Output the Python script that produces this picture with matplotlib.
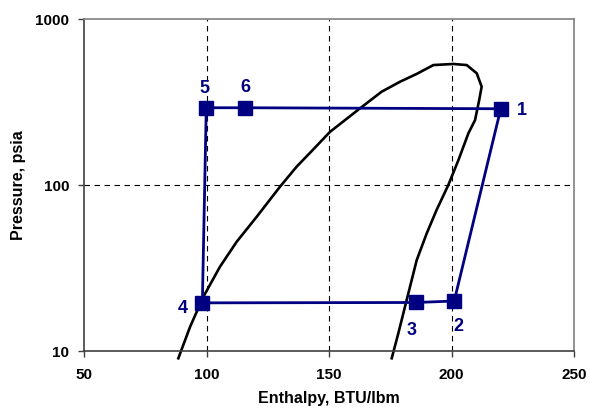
import matplotlib
matplotlib.use("Agg")
import matplotlib.pyplot as plt
from matplotlib.ticker import FixedLocator, NullLocator, FixedFormatter

plt.rcParams['font.family'] = ['Liberation Sans', 'DejaVu Sans']

# Saturation dome
dome_h = [88.5, 93.3, 98.7, 105.5, 112.3, 120.5, 130.0, 136.8, 143.6, 150.4, 162.7,
          171.5, 179.0, 185.8, 192.6, 200.7, 206.2, 210.3, 212.3, 211.3, 209.6,
          206.9, 202.8, 198.7, 193.9, 189.9, 185.8, 181.7, 178.3, 175.6]
dome_p = [9.04, 14.0, 21.2, 32.2, 45.5, 64.4, 97.7, 129, 164, 209, 290,
          365, 419, 467, 528, 536, 528, 471, 391, 325, 246,
          205, 141, 100, 70.7, 51.2, 35.3, 20.3, 12.8, 9.04]

# Cycle states
cycle_labels = ['1', '2', '3', '4', '5', '6']
cycle_h = [220.1, 201.1, 185.5, 98.3, 99.9, 115.7]
cycle_p = [288, 20.0, 19.6, 19.5, 292, 292]

x_ticks = [50, 100, 150, 200, 250]
y_ticks = [10, 100, 1000]

navy = '#000080'

fig = plt.figure(figsize=(5.9, 4.08), dpi=100)
ax = fig.add_axes([0.1424, 0.1397, 0.9729 - 0.1424, 0.9534 - 0.1397])

ax.set_yscale('log')
ax.set_xlim(50, 250)
ax.set_ylim(10, 1000)

# grid
for xv in [100, 150, 200]:
    ax.axvline(xv, color='black', lw=0.8, ls=(0, (5, 4)), zorder=1)
ax.axhline(100, color='black', lw=0.8, ls=(0, (5, 4)), zorder=1)

ax.plot(dome_h, dome_p, color='black', lw=1.9, clip_on=False, zorder=2,
        solid_joinstyle='round')

hh = cycle_h + [cycle_h[0]]
pp = cycle_p + [cycle_p[0]]
ax.plot(hh, pp, color=navy, lw=2, zorder=3)
ax.plot(cycle_h, cycle_p, ls='none', marker='s', ms=10, color=navy, zorder=4)

offsets = {'1': (15, -1), '2': (3, -18), '3': (-3, -20), '4': (-14, -4),
           '5': (-1.5, 14), '6': (0, 14.5)}
for lab, h, p in zip(cycle_labels, cycle_h, cycle_p):
    ax.annotate(lab, (h, p), xytext=offsets[lab], textcoords='offset points',
                ha='center', va='center', color=navy, fontsize=13, fontweight='bold')

ax.xaxis.set_major_locator(FixedLocator(x_ticks))
ax.yaxis.set_major_locator(FixedLocator(y_ticks))
ax.yaxis.set_minor_locator(NullLocator())
ax.yaxis.set_major_formatter(FixedFormatter([str(v) for v in y_ticks]))
ax.set_xticklabels([str(v) for v in x_ticks])

for lab in ax.get_xticklabels() + ax.get_yticklabels():
    lab.set_fontweight('bold')
    lab.set_fontsize(11)

ax.tick_params(direction='out', length=4, width=1, color='#404040')
ax.tick_params(axis='x', pad=8)
ax.tick_params(axis='y', pad=6.5)
for s in ax.spines.values():
    s.set_color('#808080')
    s.set_linewidth(1.2)
ax.spines['left'].set_color('#404040')
ax.spines['bottom'].set_color('#404040')

ax.set_xlabel('Enthalpy, BTU/lbm', fontsize=11.5, fontweight='bold', labelpad=7)
ax.set_ylabel('Pressure, psia', fontsize=11.5, fontweight='bold', labelpad=7)

fig.savefig('out.png', dpi=100)
